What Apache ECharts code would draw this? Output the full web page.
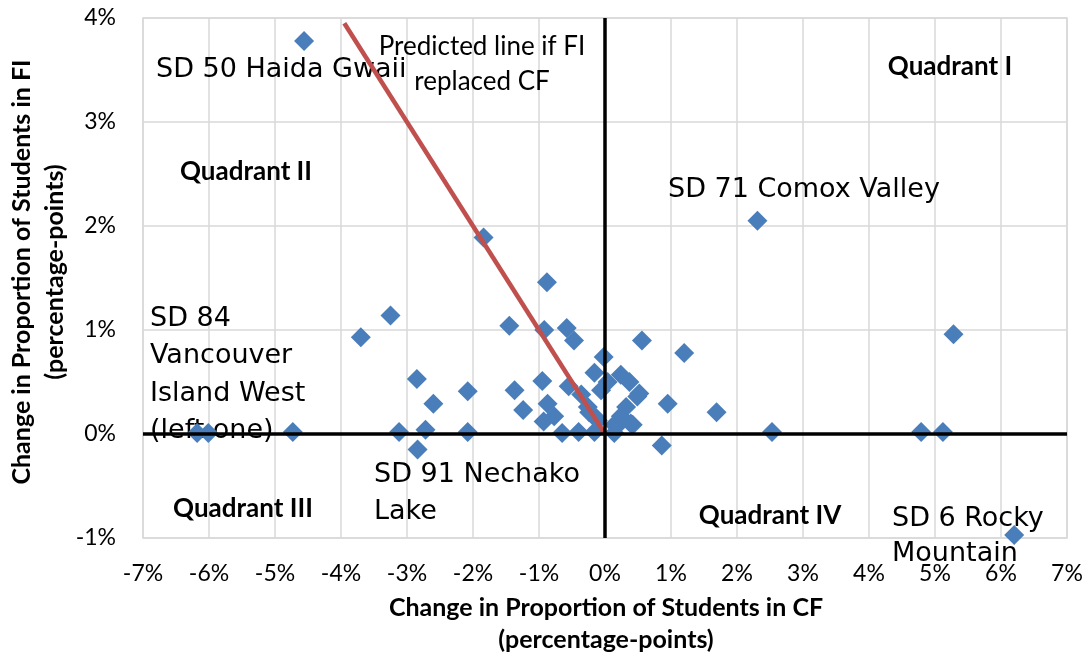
<!DOCTYPE html>
<html>
<head>
<meta charset="utf-8">
<script src="https://cdn.jsdelivr.net/npm/echarts@6/dist/echarts.min.js"></script>
<style>
  html, body { margin: 0; padding: 0; background: #fff; }
  #chart { width: 1088px; height: 657px; }
</style>
</head>
<body>
<div id="chart"></div>
<script>
// change in proportion of students (percentage-points), one entry per school district
const cfChange = [
  -4.56, 2.31, -1.84, -0.88, -3.25, -3.70, -1.45, -0.92, -0.58, -0.47,
  0.56, 1.20, 5.28, -0.02, -0.16, 0.24, 0.37, 0.04, 0.49, -2.85,
  -2.08, -2.60, -1.37, -0.95, -0.55, -0.36, -0.06, -1.24, -0.87, -0.77,
  -0.93, -0.26, -0.16, 0.32, 0.39, 0.24, 0.14, 0.95, 1.69, 0.86,
  2.53, 4.79, 5.12, 6.20, -6.18, -6.01, -4.73, -3.12, -2.72, -2.08,
  -2.84, -0.65, -0.40, -0.16, 0.14, -0.24, 0.22, -0.11, 0.42, 0.52
]
const fiChange = [
  3.78, 2.05, 1.89, 1.46, 1.14, 0.93, 1.04, 1.00, 1.02, 0.90,
  0.90, 0.78, 0.96, 0.74, 0.59, 0.57, 0.50, 0.50, 0.36, 0.53,
  0.41, 0.29, 0.42, 0.51, 0.46, 0.38, 0.42, 0.23, 0.29, 0.17,
  0.12, 0.26, 0.17, 0.26, 0.10, 0.17, 0.09, 0.29, 0.21, -0.11,
  0.02, 0.02, 0.02, -0.97, 0.01, 0.01, 0.02, 0.02, 0.04, 0.02,
  -0.15, 0.01, 0.02, 0.02, 0.01, 0.21, 0.10, 0.13, 0.09, 0.39
]
// predicted line if FI replaced CF (FI gain = CF loss)
const predictedX = [-3.95, 0]
const predictedY = [3.95, 0]

const xMin = -7, xMax = 7
const yMin = -1, yMax = 4

const points = cfChange.map((x, i) => [x, fiChange[i]])
const predicted = predictedX.map((x, i) => [x, predictedY[i]])

const annoFont = '27px "DejaVu Sans"'
const boldFont = 'bold 26px Lato'

const chart = echarts.init(document.getElementById('chart'))
chart.setOption({
  animation: false,
  grid: { left: 143, right: 21, top: 18, bottom: 119, show: true, borderColor: '#d9d9d9', borderWidth: 1.5 },
  xAxis: {
    type: 'value', min: xMin, max: xMax, interval: 1,
    axisLine: { show: false }, axisTick: { show: false },
    splitLine: { lineStyle: { color: '#d9d9d9', width: 1.5 } },
    axisLabel: { formatter: '{value}%', fontFamily: 'Lato', fontSize: 23, color: '#000', margin: 24 }
  },
  yAxis: {
    type: 'value', min: yMin, max: yMax, interval: 1,
    axisLine: { show: false }, axisTick: { show: false },
    splitLine: { lineStyle: { color: '#d9d9d9', width: 1.5 } },
    axisLabel: { formatter: '{value}%', fontFamily: 'Lato', fontSize: 23, color: '#000', margin: 27 }
  },
  graphic: [
    { type: 'text', z: 1, x: 156, y: 70, style: { text: 'SD 50 Haida Gwaii', font: annoFont, fill: '#000', textVerticalAlign: 'middle' } },
    { type: 'text', z: 1, x: 482, y: 64, style: { text: 'Predicted line if FI\nreplaced CF', font: '26px Lato', fill: '#000', textAlign: 'center', textVerticalAlign: 'middle', lineHeight: 35 } },
    { type: 'text', z: 1, x: 950, y: 67, style: { text: 'Quadrant I', font: boldFont, fill: '#000', textAlign: 'center', textVerticalAlign: 'middle' } },
    { type: 'text', z: 1, x: 246, y: 172, style: { text: 'Quadrant II', font: boldFont, fill: '#000', textAlign: 'center', textVerticalAlign: 'middle' } },
    { type: 'text', z: 1, x: 668, y: 190, style: { text: 'SD 71 Comox Valley', font: annoFont, fill: '#000', textVerticalAlign: 'middle' } },
    { type: 'text', z: 1, x: 150, y: 375, style: { text: 'SD 84\nVancouver\nIsland West\n(left one)', font: annoFont, fill: '#000', textVerticalAlign: 'middle', lineHeight: 37.5 } },
    { type: 'text', z: 1, x: 374, y: 493, style: { text: 'SD 91 Nechako\nLake', font: annoFont, fill: '#000', textVerticalAlign: 'middle', lineHeight: 37 } },
    { type: 'text', z: 1, x: 243, y: 509, style: { text: 'Quadrant III', font: boldFont, fill: '#000', textAlign: 'center', textVerticalAlign: 'middle' } },
    { type: 'text', z: 1, x: 770, y: 516, style: { text: 'Quadrant IV', font: boldFont, fill: '#000', textAlign: 'center', textVerticalAlign: 'middle' } },
    { type: 'text', z: 1, x: 892, y: 536, style: { text: 'SD 6 Rocky\nMountain', font: annoFont, fill: '#000', textVerticalAlign: 'middle', lineHeight: 35 } },
    { type: 'text', z: 1, x: 606, y: 624, style: { text: 'Change in Proportion of Students in CF\n(percentage-points)', font: 'bold 25px Lato', fill: '#000', textAlign: 'center', textVerticalAlign: 'middle', lineHeight: 32 } },
    { type: 'text', z: 1, x: 38, y: 272, rotation: Math.PI / 2, style: { text: 'Change in Proportion of Students in FI\n(percentage-points)', font: 'bold 25px Lato', fill: '#000', textAlign: 'center', textVerticalAlign: 'middle', lineHeight: 33 } }
  ],
  series: [
    {
      type: 'scatter', data: points, symbol: 'diamond', symbolSize: 20,
      itemStyle: { color: '#4a7ebb', opacity: 1 }, z: 3
    },
    {
      type: 'line', data: predicted, symbol: 'none', z: 4,
      lineStyle: { color: '#c0504d', width: 4.5 },
      markLine: {
        silent: true, symbol: 'none', label: { show: false },
        lineStyle: { color: '#000', width: 3.5, type: 'solid' },
        data: [{ xAxis: 0 }, { yAxis: 0 }]
      }
    }
  ]
})
</script>
</body>
</html>
